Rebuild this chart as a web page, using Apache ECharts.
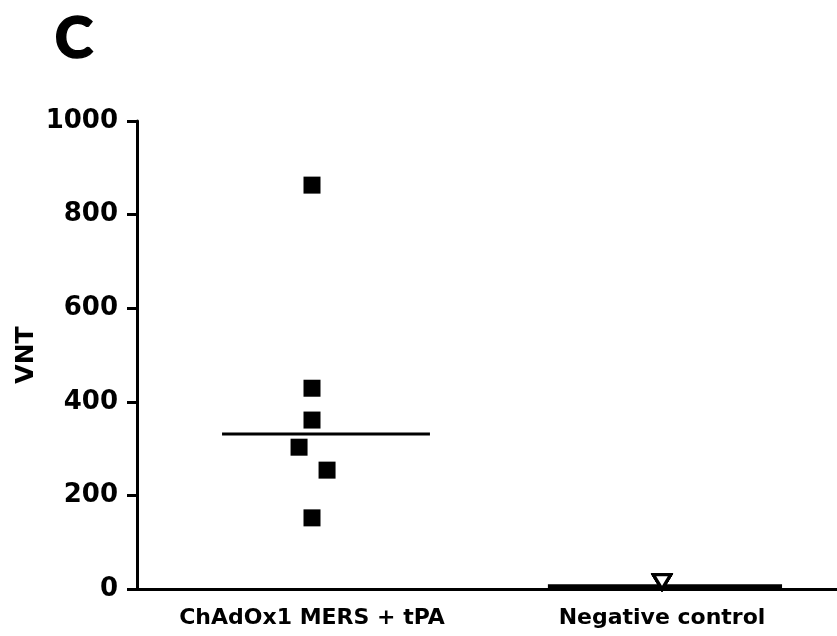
<!DOCTYPE html>
<html>
<head>
<meta charset="utf-8">
<script src="https://cdn.jsdelivr.net/npm/echarts@6/dist/echarts.min.js"></script>
<style>
html,body{margin:0;padding:0;background:#fff;}
#chart{width:837px;height:636px;}
</style>
</head>
<body>
<div id="chart"></div>
<script>
// ---- data ----
const categories = ['ChAdOx1 MERS + tPA', 'Negative control'];
const mersValues = [863, 429, 361, 303, 254, 152];
const negValues = [15, 15, 15, 15, 15, 15];
const medians = [331, 5];
const yTicks = [0, 200, 400, 600, 800, 1000];
const yAxisName = 'VNT';
const panelLabel = 'C';

// ---- layout helpers (positions only) ----
const mersJitter = [0, 0, 0, -0.037, 0.043, 0];
const medianSpan = [[-0.257, 0.337], [-0.326, 0.343]];

const chart = echarts.init(document.getElementById('chart'));
const FONT = 'DejaVu Sans';

const mersData = mersValues.map((v, i) => [0.5 + mersJitter[i], v]);
const negData = negValues.map(v => [1.5, v]);
const medianSeries = medians.map((m, i) => ({
  type: 'line',
  xAxisIndex: 1,
  data: [[i + 0.5 + medianSpan[i][0], m], [i + 0.5 + medianSpan[i][1], m]],
  symbol: 'none',
  lineStyle: { color: '#000', width: i === 0 ? 3 : 5 },
  z: 3,
  silent: true
}));

chart.setOption({
  animation: false,
  backgroundColor: '#fff',
  graphic: [{
    type: 'text',
    left: 54,
    top: 10,
    style: { text: panelLabel, fontFamily: 'Lato', fontWeight: 900, fontSize: 58, fill: '#000',
      stroke: '#000', lineWidth: 1.5 }
  }],
  grid: { left: 137, right: 0, top: 121, bottom: 47, containLabel: false },
  xAxis: [{
    type: 'category',
    data: categories,
    boundaryGap: true,
    axisLine: { lineStyle: { color: '#000', width: 3 } },
    axisTick: { alignWithLabel: true, length: 8, lineStyle: { color: '#000', width: 3 } },
    axisLabel: { color: '#000', fontFamily: FONT, fontWeight: 'bold', fontSize: 22, margin: 18 },
    splitLine: { show: false }
  }, {
    type: 'value',
    min: 0, max: 2,
    show: false
  }],
  yAxis: {
    type: 'value',
    min: yTicks[0],
    max: yTicks[yTicks.length - 1],
    interval: yTicks[1] - yTicks[0],
    name: yAxisName,
    nameLocation: 'middle',
    nameGap: 98,
    nameMoveOverlap: false,
    nameTextStyle: { color: '#000', fontFamily: FONT, fontWeight: 'bold', fontSize: 25 },
    axisLine: { show: true, lineStyle: { color: '#000', width: 3 } },
    axisTick: { show: true, length: 10, lineStyle: { color: '#000', width: 3 } },
    axisLabel: { color: '#000', fontFamily: FONT, fontWeight: 'bold', fontSize: 26, margin: 19,
      formatter: v => String(v) },
    splitLine: { show: false }
  },
  series: [{
    type: 'scatter',
    xAxisIndex: 1,
    data: mersData,
    symbol: 'rect',
    symbolSize: 17,
    itemStyle: { color: '#000', opacity: 1 },
    z: 4
  }, {
    type: 'scatter',
    xAxisIndex: 1,
    data: negData,
    symbol: 'triangle',
    symbolRotate: 180,
    symbolSize: [17, 14],
    itemStyle: { color: '#fff', borderColor: '#000', borderWidth: 3, opacity: 1 },
    z: 4
  }].concat(medianSeries)
});
</script>
</body>
</html>
